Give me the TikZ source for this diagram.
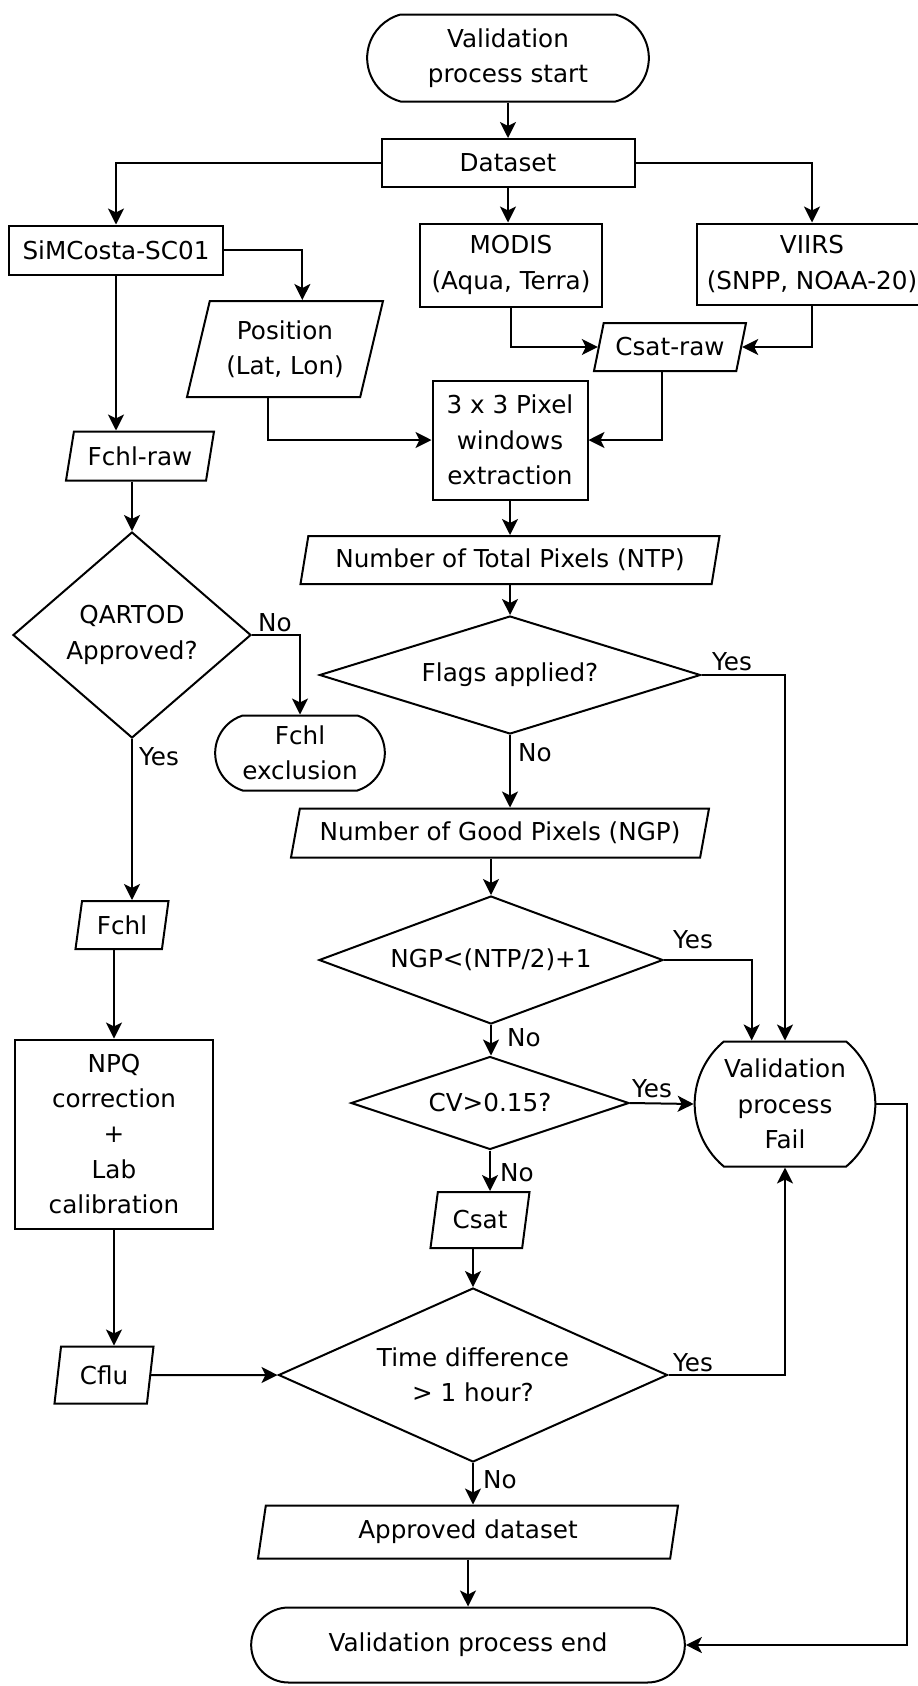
\documentclass[tikz,border=0pt]{standalone}
\usepackage{fontspec}
\setmainfont{DejaVu Sans}
\usetikzlibrary{shapes.geometric,shapes.misc,arrows.meta}

\tikzset{every picture/.style={line width=1.5pt}}
\tikzset{
  txt/.style={font=\fontsize{18.5}{26.5}\selectfont, align=center},
  proc/.style={txt, draw, rectangle, inner sep=2pt},
  io/.style={txt, draw, trapezium, trapezium left angle=72, trapezium right angle=108, trapezium stretches body=true, inner sep=2pt},
  dec/.style={txt, draw, diamond, inner sep=0pt},
  term/.style={txt, draw, rounded rectangle, inner sep=2pt},
  arr/.style={-{Stealth[length=12pt,width=12pt,inset=3pt]}},
  lbl/.style={txt}
}

\begin{document}
\begin{tikzpicture}[x=0.75pt,y=0.75pt,yscale=-1,xscale=1]
		\useasboundingbox (0,0) rectangle (918,1686);

		%Shape: Terminals
		\node[term, minimum width=215.25pt, minimum height=65.25pt, rounded rectangle arc length=150] (start) at (508,58) {Validation\\process start};
		\node[term, minimum width=131.25pt, minimum height=56.25pt, rounded rectangle arc length=145] (excl) at (300,753) {Fchl\\exclusion};
		\node[term, minimum width=139.5pt, minimum height=93.75pt, rounded rectangle arc length=100] (fail) at (785,1104) {Validation\\process\\Fail};
		\node[term, minimum width=329.25pt, minimum height=56.25pt] (end) at (468,1645) {Validation process end};

		%Shape: Rectangles
		\node[proc, minimum width=189.75pt, minimum height=36pt] (data) at (508,163) {Dataset};
		\node[proc, minimum width=160.5pt, minimum height=36.75pt] (simc) at (116,250) {SiMCosta-SC01};
		\node[proc, minimum width=136.5pt, minimum height=62.25pt] (modis) at (511,265) {MODIS\\(Aqua, Terra)};
		\node[proc, minimum width=172.5pt, minimum height=60.75pt] (viirs) at (812,264) {VIIRS\\(SNPP, NOAA-20)};
		\node[proc, minimum width=116.25pt, minimum height=89.25pt] (win) at (510,440) {3 x 3 Pixel\\windows\\extraction};
		\node[proc, minimum width=148.5pt, minimum height=141.75pt] (npq) at (114,1134) {NPQ\\correction\\+\\Lab\\calibration};

		%Shape: Parallelograms
		\node[io, minimum width=147pt, minimum height=72pt, trapezium left angle=70, trapezium right angle=110] (pos) at (285,349) {Position\\(Lat, Lon)};
		\node[io, minimum width=114pt, minimum height=36pt, trapezium left angle=68, trapezium right angle=112] (csraw) at (670,347) {Csat-raw};
		\node[io, minimum width=111pt, minimum height=36.75pt] (fraw) at (140,456) {Fchl-raw};
		\node[io, minimum width=314.25pt, minimum height=36pt, trapezium left angle=74, trapezium right angle=106] (ntp) at (510,560) {Number of Total Pixels (NTP)};
		\node[io, minimum width=313.5pt, minimum height=36.75pt] (ngp) at (500,833) {Number of Good Pixels (NGP)};
		\node[io, minimum width=69.75pt, minimum height=36pt, trapezium left angle=75, trapezium right angle=105] (fchl) at (122,925) {Fchl};
		\node[io, minimum width=74.25pt, minimum height=42pt, trapezium left angle=73, trapezium right angle=107] (csat) at (480,1220) {Csat};
		\node[io, minimum width=74.25pt, minimum height=42.75pt, trapezium left angle=75, trapezium right angle=105] (cflu) at (104,1375) {Cflu};
		\node[io, minimum width=315pt, minimum height=39.75pt, trapezium left angle=75, trapezium right angle=105] (appr) at (468,1532) {Approved dataset};

		%Shape: Diamonds
		\node[dec, minimum width=178.5pt, minimum height=154.5pt, aspect=1.15] (qartod) at (132,635) {QARTOD\\Approved?};
		\node[dec, minimum width=285.75pt, minimum height=88.5pt, aspect=3.2] (flags) at (510,675) {Flags applied?};
		\node[dec, minimum width=258pt, minimum height=96pt, aspect=2.7] (ngpd) at (491,960) {NGP<(NTP/2)+1};
		\node[dec, minimum width=208.5pt, minimum height=69.75pt, aspect=3] (cv) at (490,1103) {CV>0.15?};
		\node[dec, minimum width=291.75pt, minimum height=130.5pt, aspect=2.24] (time) at (473,1375) {Time difference\\> 1 hour?};

		\coordinate (rt) at (907,1104);

		%Straight Lines
		\draw[arr] (start.south) -- (start.south |- data.north);
		\draw[arr] (data.west) -| (simc.north);
		\draw[arr] (data.south) -- (data.south |- modis.north);
		\draw[arr] (data.east) -| (viirs.north);
		\draw[arr] (simc.east) -| ([xshift=13pt]pos.north);
		\draw[arr] (simc.south) -- (simc.south |- fraw.north);
		\draw[arr] (modis.south) |- (csraw.west);
		\draw[arr] (viirs.south) |- (csraw.east);
		\draw[arr] ([xshift=-6pt]csraw.south) |- (win.east);
		\draw[arr] ([xshift=-13pt]pos.south) |- (win.west);
		\draw[arr] (win) -- (ntp);
		\draw[arr] (ntp.south) -- (ntp.south |- flags.north);
		\draw[arr] (qartod.north |- fraw.south) -- (qartod.north);
		\draw[arr] (qartod.east) -| (excl.north);
		\draw[arr] (qartod.south) -- (qartod.south |- fchl.north);
		\draw[arr] (flags.east) -| (fail.north);
		\draw[arr] (flags.south) -- (flags.south |- ngp.north);
		\draw[arr] (ngpd.north |- ngp.south) -- (ngpd.north);
		\draw[arr] (ngpd.east) -| ([xshift=-25pt]fail.north);
		\draw[arr] (ngpd.south) -- (ngpd.south |- cv.north);
		\draw[arr] (cv.east) -- (fail.west);
		\draw[arr] (cv.south) -- (cv.south |- csat.north);
		\draw[arr] (time.north |- csat.south) -- (time.north);
		\draw[arr] (npq.north |- fchl.south) -- (npq.north);
		\draw[arr] (npq.south) -- (npq.south |- cflu.north);
		\draw[arr] (cflu.east) -- (time.west);
		\draw[arr] (time.east) -| (fail.south);
		\draw[arr] (time.south) -- (time.south |- appr.north);
		\draw[arr] (appr.south) -- (appr.south |- end.north);
		\draw[arr] (fail.east) -- (rt) |- (end.east);

		% Text Node
		\node[lbl] (l1) at (275,623) {No};
		\node[lbl] (l2) at (159,757) {Yes};
		\node[lbl] (l3) at (732,662) {Yes};
		\node[lbl] (l4) at (535,753) {No};
		\node[lbl] (l5) at (693,940) {Yes};
		\node[lbl] (l6) at (524,1038) {No};
		\node[lbl] (l7) at (652,1089) {Yes};
		\node[lbl] (l8) at (517,1173) {No};
		\node[lbl] (l9) at (693,1363) {Yes};
		\node[lbl] (l10) at (500,1480) {No};

\end{tikzpicture}
\end{document}
